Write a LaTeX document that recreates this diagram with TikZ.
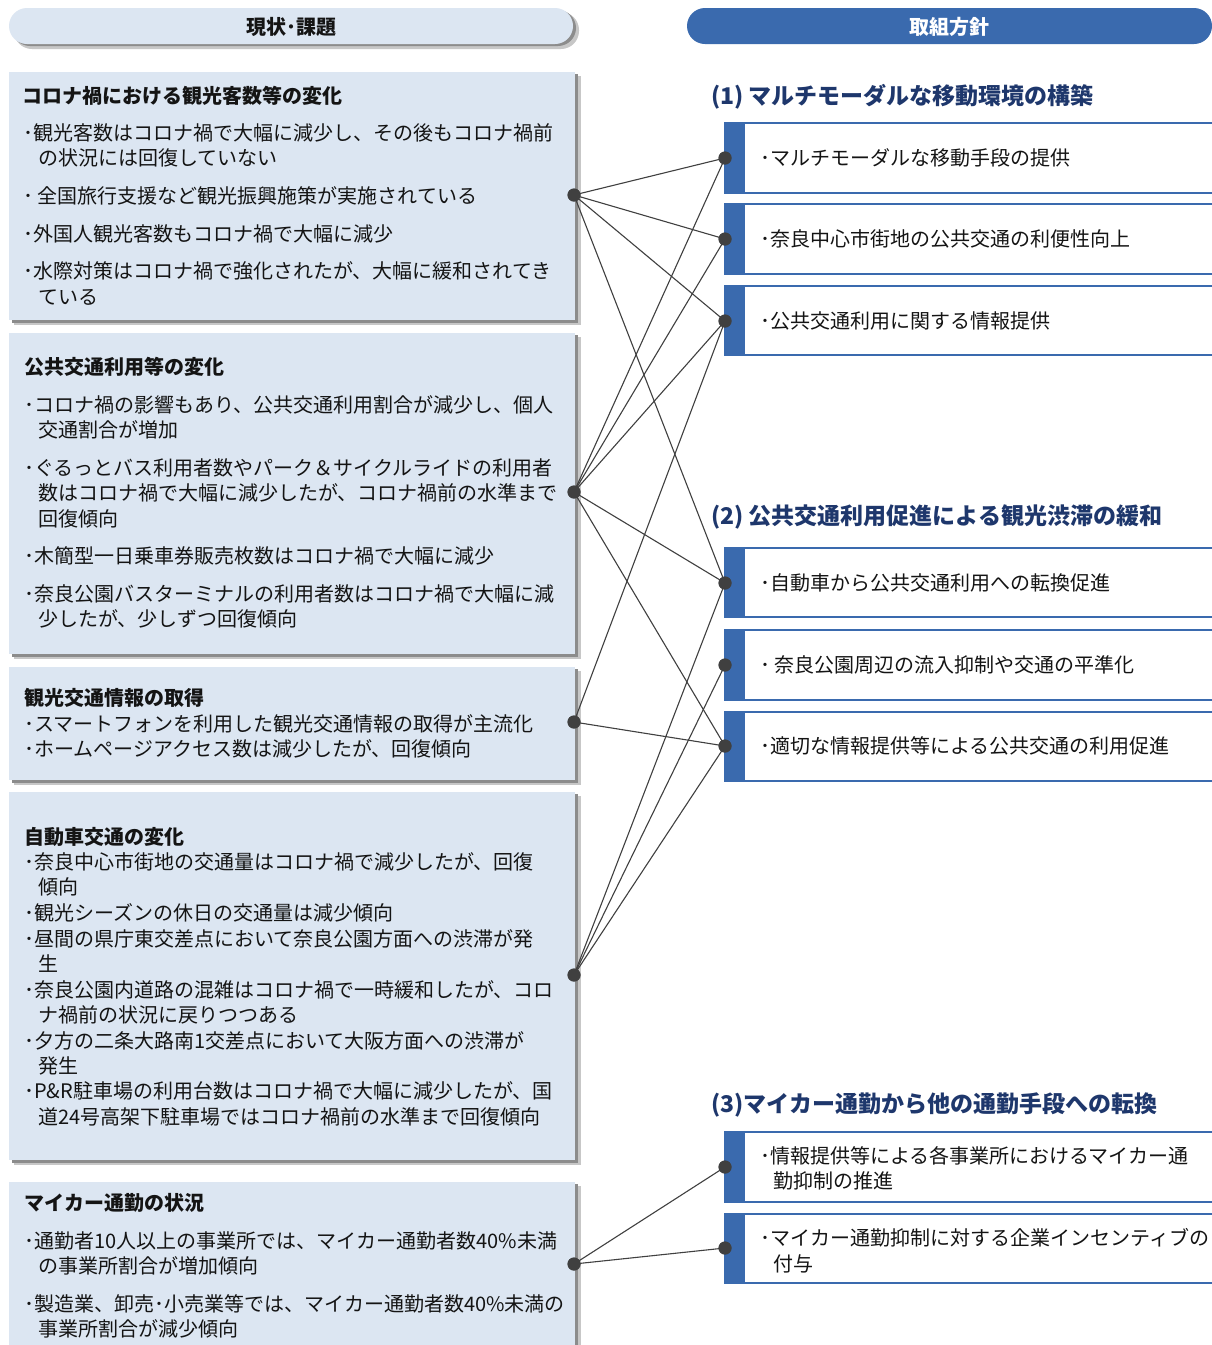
\documentclass[tikz,border=0pt]{standalone}
\usepackage{fontspec}
\setmainfont{Noto Sans CJK JP}
\definecolor{lightblue}{RGB}{220,230,242}
\definecolor{hdrblue}{RGB}{58,106,174}
\definecolor{navy}{RGB}{30,55,108}
\definecolor{dotgray}{RGB}{64,64,64}
\definecolor{txtblack}{RGB}{20,20,20}
\begin{document}
\begin{tikzpicture}[x=1pt,y=-1pt,
  txt/.style={anchor=base west, inner sep=0pt, text=txtblack, font=\fontsize{20}{24}\selectfont},
  ttl/.style={anchor=base west, inner sep=0pt, text=txtblack, font=\fontsize{20}{24}\selectfont\bfseries},
  hd/.style={anchor=base west, inner sep=0pt, text=navy, font=\fontsize{23}{28}\selectfont\bfseries},
  dotnode/.style={circle, fill=dotgray, inner sep=0pt, minimum size=13pt},
  link/.style={draw=dotgray, line width=1.1pt},
  shadowA/.style={fill=black!22},
  shadowB/.style={fill=black!45},
  lbox/.style={fill=lightblue},
  rbody/.style={draw=hdrblue, line width=1.6pt, fill=white},
  rbar/.style={fill=hdrblue}
]
\useasboundingbox (0,0) rectangle (1212,1345);
\fill[white] (0,0) rectangle (1212,1345);

% ---------- headers ----------
\fill[shadowA, rounded corners=18pt] (14,12) rectangle (579,49);
\fill[shadowB, rounded corners=18pt] (12,10) rectangle (576,46);
\fill[lbox, rounded corners=18pt] (9,8) rectangle (573,44);
\node[inner sep=0pt, text=txtblack, font=\fontsize{20}{24}\selectfont\bfseries] (hleft) at (291,27) {現状･課題};

\fill[hdrblue, rounded corners=18pt] (687,8) rectangle (1212,44);
\node[inner sep=0pt, text=white, font=\fontsize{20}{24}\selectfont\bfseries] (hright) at (949,27) {取組方針};

% ---------- left boxes ----------
\foreach \t/\b in {72/320, 333/654, 667/780, 792/1160, 1182/1352}{
  \fill[shadowA] (14,\t+4) rectangle (581,\b+5);
  \fill[shadowB] (12,\t+2) rectangle (578,\b+3);
  \fill[lbox] (9,\t) rectangle (575,\b);
}

% box 1
\node[ttl] (t1) at (22,103.5) {コロナ禍における観光客数等の変化};
\node[txt] (t1a) at (23,140.5) {･観光客数はコロナ禍で大幅に減少し、その後もコロナ禍前};
\node[txt] (t1b) at (38,165.5) {の状況には回復していない};
\node[txt] (t1c) at (23,203.5) {･ 全国旅行支援など観光振興施策が実施されている};
\node[txt] (t1d) at (23,241.5) {･外国人観光客数もコロナ禍で大幅に減少};
\node[txt] (t1e) at (23,278.5) {･水際対策はコロナ禍で強化されたが、大幅に緩和されてき};
\node[txt] (t1f) at (38,304.5) {ている};

% box 2
\node[ttl] (t2) at (24,374.5) {公共交通利用等の変化};
\node[txt] (t2a) at (24,412.5) {･コロナ禍の影響もあり、公共交通利用割合が減少し、個人};
\node[txt] (t2b) at (38,437.5) {交通割合が増加};
\node[txt] (t2c) at (24,475.5) {･ぐるっとバス利用者数やパーク＆サイクルライドの利用者};
\node[txt] (t2d) at (38,500.5) {数はコロナ禍で大幅に減少したが、コロナ禍前の水準まで};
\node[txt] (t2e) at (38,526.5) {回復傾向};
\node[txt] (t2f) at (24,563.5) {･木簡型一日乗車券販売枚数はコロナ禍で大幅に減少};
\node[txt] (t2g) at (24,601.5) {･奈良公園バスターミナルの利用者数はコロナ禍で大幅に減};
\node[txt] (t2h) at (38,626.5) {少したが、少しずつ回復傾向};

% box 3
\node[ttl] (t3) at (24,705.5) {観光交通情報の取得};
\node[txt] (t3a) at (24,731.5) {･スマートフォンを利用した観光交通情報の取得が主流化};
\node[txt] (t3b) at (24,756.5) {･ホームページアクセス数は減少したが、回復傾向};

% box 4
\node[ttl] (t4) at (24,844.5) {自動車交通の変化};
\node[txt] (t4a) at (24,869.5) {･奈良中心市街地の交通量はコロナ禍で減少したが、回復};
\node[txt] (t4b) at (38,894.5) {傾向};
\node[txt] (t4c) at (24,920.5) {･観光シーズンの休日の交通量は減少傾向};
\node[txt] (t4d) at (24,946.5) {･昼間の県庁東交差点において奈良公園方面への渋滞が発};
\node[txt] (t4e) at (38,971.5) {生};
\node[txt] (t4f) at (24,997.5) {･奈良公園内道路の混雑はコロナ禍で一時緩和したが、コロ};
\node[txt] (t4g) at (38,1022.5) {ナ禍前の状況に戻りつつある};
\node[txt] (t4h) at (24,1048.5) {･夕方の二条大路南1交差点において大阪方面への渋滞が};
\node[txt] (t4i) at (38,1073.5) {発生};
\node[txt] (t4j) at (24,1098.5) {･P\&R駐車場の利用台数はコロナ禍で大幅に減少したが、国};
\node[txt] (t4k) at (38,1124.5) {道24号高架下駐車場ではコロナ禍前の水準まで回復傾向};

% box 5
\node[ttl] (t5) at (24,1210.5) {マイカー通勤の状況};
\node[txt] (t5a) at (24,1248.5) {･通勤者10人以上の事業所では、マイカー通勤者数40\%未満};
\node[txt] (t5b) at (38,1273.5) {の事業所割合が増加傾向};
\node[txt] (t5c) at (24,1311.5) {･製造業、卸売･小売業等では、マイカー通勤者数40\%未満の};
\node[txt] (t5d) at (38,1336.5) {事業所割合が減少傾向};

% ---------- right side ----------
\node[hd] (h1) at (711,104.5) {(1) マルチモーダルな移動環境の構築};
\node[hd] (h2) at (711,524.5) {(2) 公共交通利用促進による観光渋滞の緩和};
\node[hd] (h3) at (711,1112.5) {(3)マイカー通勤から他の通勤手段への転換};

\foreach \t/\b in {123/193, 204/274, 286/355, 548/617, 630/700, 712/781, 1132/1202, 1214/1283}{
  \draw[rbody] (725,\t) rectangle (1216,\b);
  \fill[rbar] (724,\t-0.8) rectangle (745,\b+0.8);
}
\node[txt] (r1t) at (760,165.5) {･マルチモーダルな移動手段の提供};
\node[txt] (r2t) at (760,246.5) {･奈良中心市街地の公共交通の利便性向上};
\node[txt] (r3t) at (760,328.5) {･公共交通利用に関する情報提供};
\node[txt] (r4t) at (760,590.5) {･自動車から公共交通利用への転換促進};
\node[txt] (r5t) at (760,672.5) {･ 奈良公園周辺の流入抑制や交通の平準化};
\node[txt] (r6t) at (760,753.5) {･適切な情報提供等による公共交通の利用促進};
\node[txt] (r7t) at (760,1163.5) {･情報提供等による各事業所におけるマイカー通};
\node[txt] (r7u) at (773,1188.5) {勤抑制の推進};
\node[txt] (r8t) at (760,1245.5) {･マイカー通勤抑制に対する企業インセンティブの};
\node[txt] (r8u) at (773,1271.5) {付与};

% ---------- dots ----------
\node[dotnode] (L1) at (574,195) {};
\node[dotnode] (L2) at (574,492) {};
\node[dotnode] (L3) at (574,722) {};
\node[dotnode] (L4) at (574,975) {};
\node[dotnode] (L5) at (574,1264) {};
\node[dotnode] (R1) at (725,158) {};
\node[dotnode] (R2) at (725,239) {};
\node[dotnode] (R3) at (725,321) {};
\node[dotnode] (R4) at (725,583) {};
\node[dotnode] (R5) at (725,665) {};
\node[dotnode] (R6) at (725,746) {};
\node[dotnode] (R7) at (725,1167) {};
\node[dotnode] (R8) at (725,1248) {};

% ---------- connectors ----------
\foreach \a/\b in {L1/R1, L1/R2, L1/R3, L1/R4,
                   L2/R1, L2/R2, L2/R3, L2/R4, L2/R6,
                   L3/R3, L3/R6,
                   L4/R4, L4/R5, L4/R6,
                   L5/R7, L5/R8}{
  \draw[link] (\a.center) -- (\b.center);
}
% redraw dots on top
\foreach \d in {L1,L2,L3,L4,L5,R1,R2,R3,R4,R5,R6,R7,R8}{
  \fill[dotgray] (\d.center) circle (6.5pt);
}
\end{tikzpicture}
\end{document}
